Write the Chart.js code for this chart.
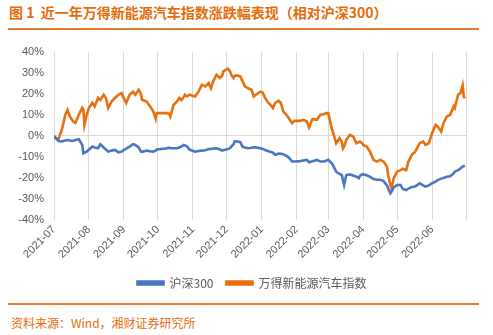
<!DOCTYPE html>
<html><head><meta charset="utf-8">
<style>
html,body{margin:0;padding:0;background:#fff;width:493px;height:335px;overflow:hidden;font-family:"Noto Sans CJK SC",sans-serif}
#title{position:absolute;left:9px;top:3px;font-size:14px;font-weight:bold;color:#E46C0A;white-space:nowrap;line-height:18px}
.rule{position:absolute;left:8px;width:471px;height:2px;background:#E87C30}
#src{position:absolute;left:11px;top:315px;font-size:12px;color:#E46C0A;line-height:16px;white-space:nowrap}
#wrap{position:absolute;left:0;top:35px;width:493px;height:266px}
</style>
<script src="https://cdn.jsdelivr.net/npm/chart.js@4/dist/chart.umd.min.js"></script>
</head><body>
<div id="title">图 1&nbsp;&nbsp;近一年万得新能源汽车指数涨跌幅表现（相对沪深300）</div>
<div class="rule" style="top:28px"></div>
<div id="wrap"><canvas id="c" width="493" height="266"></canvas></div>
<div class="rule" style="top:303px"></div>
<div id="src">资料来源：Wind，湘财证券研究所</div>
<script>
const monthLabels = ['2021-07','2021-08','2021-09','2021-10','2021-11','2021-12','2022-01','2022-02','2022-03','2022-04','2022-05','2022-06'];
const seriesNames = ['沪深300','万得新能源汽车指数'];
const dates = [
'2021-07-01','2021-07-05','2021-07-08','2021-07-11','2021-07-13','2021-07-15','2021-07-18','2021-07-20','2021-07-23','2021-07-26','2021-07-27','2021-07-28','2021-07-30',
'2021-08-01','2021-08-04','2021-08-06','2021-08-09','2021-08-11','2021-08-14','2021-08-16','2021-08-18','2021-08-21','2021-08-24','2021-08-27','2021-08-30','2021-08-31',
'2021-09-03','2021-09-06','2021-09-09','2021-09-11','2021-09-14','2021-09-16','2021-09-17','2021-09-21','2021-09-24','2021-09-27','2021-09-29','2021-09-30',
'2021-10-08','2021-10-11','2021-10-12','2021-10-15','2021-10-18','2021-10-20','2021-10-22','2021-10-24','2021-10-25','2021-10-27','2021-10-29',
'2021-11-03','2021-11-06','2021-11-09','2021-11-12','2021-11-15','2021-11-17','2021-11-19','2021-11-22','2021-11-25','2021-11-27','2021-11-28',
'2021-12-02','2021-12-04','2021-12-05','2021-12-07','2021-12-08','2021-12-10','2021-12-13','2021-12-15','2021-12-17','2021-12-20','2021-12-23','2021-12-25','2021-12-28','2021-12-31',
'2022-01-02','2022-01-04','2022-01-07','2022-01-10','2022-01-11','2022-01-13','2022-01-16','2022-01-18','2022-01-20','2022-01-23','2022-01-25','2022-01-28','2022-01-30',
'2022-02-04','2022-02-07','2022-02-10','2022-02-12','2022-02-15','2022-02-19','2022-02-22','2022-02-25','2022-02-27',
'2022-03-01','2022-03-04','2022-03-05','2022-03-08','2022-03-10','2022-03-11','2022-03-13','2022-03-14','2022-03-15','2022-03-17','2022-03-20','2022-03-23','2022-03-26','2022-03-28','2022-03-29','2022-03-31',
'2022-04-01','2022-04-04','2022-04-07','2022-04-10','2022-04-13','2022-04-16','2022-04-19','2022-04-22','2022-04-23','2022-04-25','2022-04-26','2022-04-28',
'2022-05-01','2022-05-04','2022-05-06','2022-05-09','2022-05-11','2022-05-14','2022-05-17','2022-05-21','2022-05-24','2022-05-26','2022-05-29',
'2022-06-01','2022-06-04','2022-06-06','2022-06-09','2022-06-11','2022-06-14','2022-06-17','2022-06-20','2022-06-21','2022-06-24','2022-06-26','2022-06-28','2022-06-29','2022-06-30'
];
const hs300 = [
0,-2.4,-2.6,-2.2,-2,-2.2,-2.4,-2,-1.6,-4.3,-8.2,-8,-7.5,
-6.5,-5.1,-5.5,-5.9,-4,-5.5,-6.5,-7.5,-7,-6.7,-7.8,-7.5,-7,
-6,-5.1,-4,-4.3,-5.5,-7.5,-7.6,-7,-7.3,-7.5,-7,-6.5,
-6,-5.6,-5.9,-5.9,-5.9,-5.5,-5,-4.3,-4.5,-5.1,-6.5,
-7.5,-7.2,-7,-6.8,-6.3,-6.2,-6,-5.9,-6.5,-7,-6.8,
-6.3,-5.8,-5.1,-4,-2.7,-2.6,-3,-5.1,-5.5,-5.9,-5.6,-5.4,-5.6,-5.9,
-6.2,-6.7,-7.3,-7.8,-8,-9,-8.4,-8.5,-8.7,-9.5,-10.3,-12.2,-12.2,
-12,-11.7,-11.4,-12.5,-12,-11.4,-12.2,-12.2,-11.8,
-11.4,-13,-13.8,-17,-17.8,-18,-18.6,-21,-23.3,-18.6,-18.3,-18.8,-19.4,-20.1,-19,-18.3,
-18.3,-18.7,-19.5,-20.5,-20.8,-20.8,-21.5,-23.5,-24.9,-27.3,-26.5,-24.5,
-23.3,-23.3,-25.2,-25.7,-25,-24.3,-24,-22.5,-23.5,-24.1,-23.5,
-22.5,-21.7,-21,-20.3,-20,-19.4,-19.2,-17.8,-17,-16.3,-15.5,-14.6,-14.4,-14.2
];
const nevIndex = [
-1,-1.5,3,10,12.4,9.2,6.8,6.2,10,13.3,12.4,5.2,10,
13.3,15.7,14,18,17,19.5,18,13.2,16.3,18,19.5,20.3,18.7,
15.6,19.5,21,19.5,21.9,20,17.1,16.3,14,11.6,8.1,10.8,
10.8,10.5,9.2,14.8,16.3,18,17,18.5,19.5,18.7,19.5,
18.7,21,24.3,23.5,25.1,22.6,25.9,29,27.5,28.5,30.6,
31.9,30.6,29,27.5,28.5,28.7,28.3,26,23.5,22.6,21.9,18.7,20,21,
20.5,18,15.6,14,13.2,15.6,16.7,15.6,11.6,10,8.4,6,7.1,
7.1,7.6,6.8,4,8,7.6,10,10.3,10.8,
10.8,3.6,2,-3.5,-2,-1.1,-3,-5.9,-5,-1.9,0.5,-0.3,-3.5,-3,-2.7,-3.5,
-4.3,-5.1,-7.5,-11.4,-12.2,-11.4,-12.2,-14.6,-18.6,-23.3,-24.9,-20.1,
-17,-16.3,-15.6,-16.3,-12.2,-9,-7.5,-3.5,-2.7,-4.3,-3.5,
1.3,5.2,4.4,2,6,9.2,10,14,13.2,19.5,20.3,24,18.7,17.9
];

const toDay = s => { const [y,m,d] = s.split('-').map(Number); return (Date.UTC(y,m-1,d) - Date.UTC(2021,6,1)) / 86400000; };
const monthStarts = monthLabels.concat(['2022-07']).map(m => toDay(m + '-01'));
const pts = vals => dates.map((d,i) => ({x: toDay(d), y: vals[i]}));
const tickFont = {family:'"Liberation Sans", Arial, sans-serif', size:11};

const legendShift = {
  id:'legendShift',
  afterLayout(chart){ const l = chart.legend; if (l) { l.left += 19; l.right += 19; } }
};

new Chart(document.getElementById('c'), {
  type:'line',
  plugins:[legendShift],
  data:{datasets:[
    {label:seriesNames[0], data:pts(hs300), borderColor:'#4878C0', backgroundColor:'#4878C0', borderWidth:2.6, pointRadius:0, tension:0},
    {label:seriesNames[1], data:pts(nevIndex), borderColor:'#E8700E', backgroundColor:'#E8700E', borderWidth:2.6, pointRadius:0, tension:0}
  ]},
  options:{
    responsive:false, animation:false, devicePixelRatio:1,
    layout:{padding:{top:10,right:27,left:0,bottom:2}},
    plugins:{
      tooltip:{enabled:false},
      legend:{position:'bottom', labels:{boxWidth:26, boxHeight:3, color:'#595959', padding:13, font:{family:'"Noto Sans CJK SC", sans-serif', size:12}}}
    },
    scales:{
      x:{type:'linear', min:monthStarts[0], max:monthStarts[monthStarts.length-1],
        afterBuildTicks: s => { s.ticks = monthStarts.map(v => ({value:v})); },
        ticks:{autoSkip:false, minRotation:45, maxRotation:45, color:'#595959', font:tickFont, padding:3,
          callback:(v,i) => monthLabels[i] || ''},
        grid:{color:'#d9d9d9', lineWidth:1, drawTicks:false},
        border:{display:false}
      },
      y:{min:-40, max:40,
        ticks:{stepSize:10, color:'#595959', font:tickFont, padding:10, callback:v => v + '%'},
        grid:{drawTicks:false, lineWidth:1, color: c => (c.tick && c.tick.value === 0) ? '#d9d9d9' : 'rgba(0,0,0,0)'},
        border:{display:false},
        afterFit: s => { s.width = 54; }
      }
    }
  }
});
</script>
</body></html>
